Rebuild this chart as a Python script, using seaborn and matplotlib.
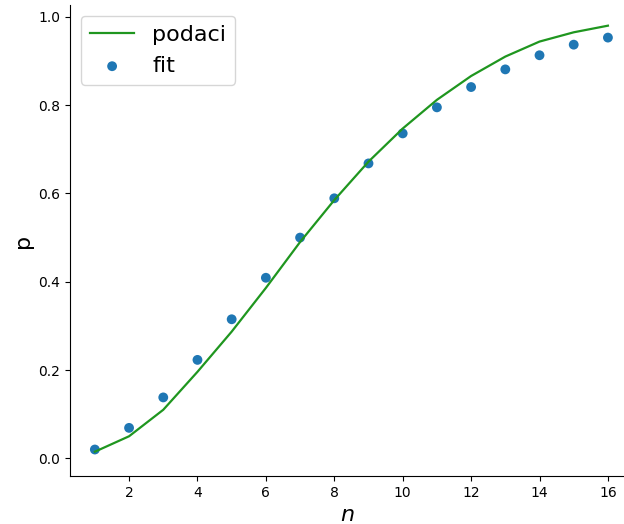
import matplotlib
matplotlib.use("Agg")
import matplotlib.pyplot as plt
import seaborn as sns
import numpy as np

n_values = [1, 2, 3, 4, 5, 6, 7, 8, 9, 10, 11, 12, 13, 14, 15, 16]
line_p = [0.015, 0.050, 0.110, 0.196, 0.287, 0.386, 0.490, 0.585, 0.672, 0.747,
          0.812, 0.866, 0.910, 0.944, 0.965, 0.980]
points_p = [0.020, 0.069, 0.138, 0.223, 0.315, 0.409, 0.500, 0.589, 0.668, 0.736,
            0.795, 0.841, 0.881, 0.913, 0.937, 0.953]

fig = plt.figure(figsize=(6.24, 5.24), dpi=100)
ax = fig.add_axes([0.112, 0.0916, 0.888, 0.899])

sns.lineplot(x=n_values, y=line_p, ax=ax, color="#1f961f", linewidth=1.6, label="podaci")
sns.scatterplot(x=n_values, y=points_p, ax=ax, color="#1f77b4", s=50, edgecolor="none", label="fit")

ax.set_xlim(0.27, 16.47)
ax.set_ylim(-0.04, 1.027)
ax.set_xticks([2, 4, 6, 8, 10, 12, 14, 16])
ax.set_yticks([0.0, 0.2, 0.4, 0.6, 0.8, 1.0])
ax.tick_params(labelsize=10)
ax.set_xlabel("$n$", fontsize=16)
ax.set_ylabel("p", fontsize=16)
sns.despine(ax=ax)
ax.legend(loc="upper left", fontsize=16)

fig.savefig("out.png", dpi=100)
